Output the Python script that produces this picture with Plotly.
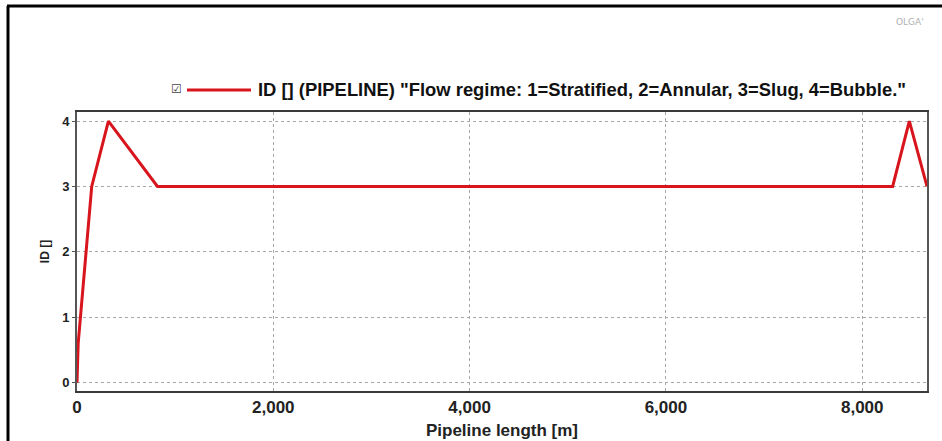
import plotly.graph_objects as go

# Data
length_m = [0, 12, 150, 320, 820, 8310, 8480, 8660]
flow_id = [0, 0.6, 3, 4, 3, 3, 4, 3]

x_ticks = [0, 2000, 4000, 6000, 8000]
x_tick_text = ["0", "2,000", "4,000", "6,000", "8,000"]
y_ticks = [0, 1, 2, 3, 4]

legend_text = 'ID [] (PIPELINE) "Flow regime: 1=Stratified, 2=Annular, 3=Slug, 4=Bubble."'
x_title = "Pipeline length [m]"
y_title = "ID []"

W, H = 942, 441
L, R, T, B = 77, 15, 112, 50
pw, ph = W - L - R, H - T - B

def px(x):
    return (x - L) / pw

def py(y):
    return (H - B - y) / ph

RED = "#d8141c"

fig = go.Figure()
fig.add_trace(go.Scatter(x=length_m, y=flow_id, mode="lines",
                         line=dict(color=RED, width=3), showlegend=False,
                         cliponaxis=True))

font_b = "Liberation Sans"
fig.update_layout(
    width=W, height=H,
    margin=dict(l=L, r=R, t=T, b=B, autoexpand=False),
    paper_bgcolor="white", plot_bgcolor="white",
    xaxis=dict(range=[0, 8660], tickvals=x_ticks, ticktext=x_tick_text,
               automargin=False,
               showgrid=True, gridcolor="#a8a8a8", griddash="dot", gridwidth=1,
               zeroline=False, showline=True, linecolor="#3a3a3a", linewidth=2,
               mirror=True, ticks="", ticklen=0,
               tickfont=dict(family=font_b, size=17, color="#222", weight="bold"),
               title=dict(text=x_title, standoff=8,
                          font=dict(family=font_b, size=17, color="#222", weight="bold"))),
    yaxis=dict(range=[-0.127, 4.138], tickvals=y_ticks,
               automargin=False,
               showgrid=True, gridcolor="#a8a8a8", griddash="dot", gridwidth=1,
               zeroline=False, showline=True, linecolor="#555", linewidth=2,
               mirror=True, ticks="outside", ticklen=3, tickcolor="#555",
               tickfont=dict(family=font_b, size=13, color="#222", weight="bold"),
               title=dict(text=y_title, standoff=10,
                          font=dict(family=font_b, size=12, color="#222", weight="bold"))),
)

# outer frame (top and left)
fig.add_shape(type="line", xref="paper", yref="paper",
              x0=px(8), x1=px(8), y0=py(441), y1=py(6),
              line=dict(color="black", width=3))
fig.add_shape(type="line", xref="paper", yref="paper",
              x0=px(7), x1=px(942), y0=py(6), y1=py(6),
              line=dict(color="black", width=3))

# legend: checkbox, line sample, text
fig.add_annotation(xref="paper", yref="paper", x=px(176), y=py(89),
                   text="☑", showarrow=False, xanchor="center", yanchor="middle",
                   font=dict(family="DejaVu Sans", size=12, color="#444"))
fig.add_shape(type="line", xref="paper", yref="paper",
              x0=px(187), x1=px(251), y0=py(90), y1=py(90),
              line=dict(color=RED, width=3))
fig.add_annotation(xref="paper", yref="paper", x=px(256), y=py(90),
                   text=legend_text, showarrow=False, xanchor="left", yanchor="middle",
                   font=dict(family=font_b, size=18.4, color="#111", weight="bold"))

fig.add_annotation(xref="paper", yref="paper", x=px(926), y=py(22),
                   text="OLGA'", showarrow=False, xanchor="right", yanchor="middle",
                   font=dict(family="DejaVu Sans", size=9, color="#b0b0b0"))

fig.write_html("out.html")
